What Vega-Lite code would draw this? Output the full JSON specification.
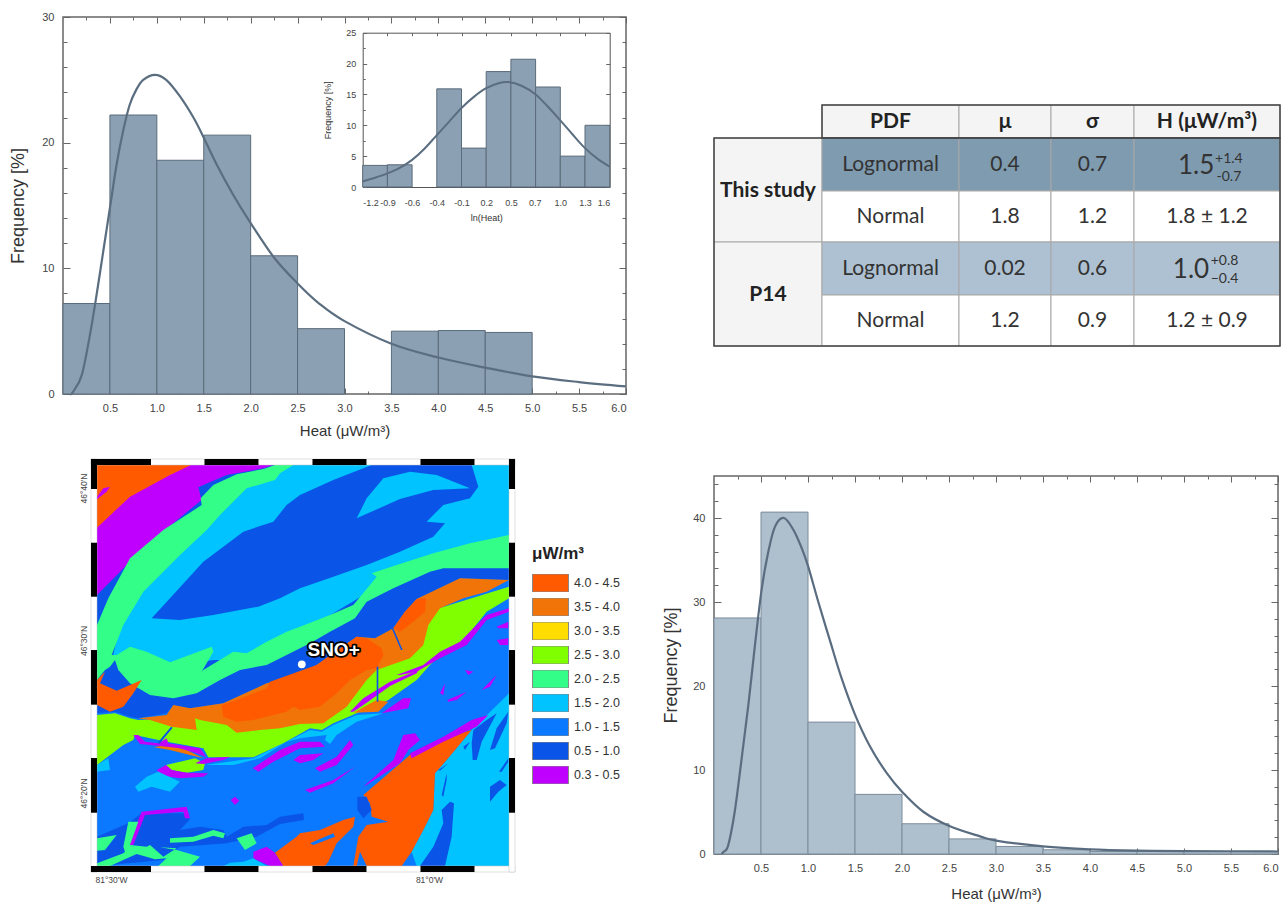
{"$schema":"https://vega.github.io/schema/vega-lite/v6.json","background":"white","padding":{"left":9,"top":10,"right":0,"bottom":0},
"config":{"view":{"stroke":null},"font":"Liberation Sans","axis":{"grid":false,"domain":false,"tickColor":"#666666","labelColor":"#444444","titleColor":"#333333","titleFontWeight":"normal","labelFont":"Liberation Sans","titleFont":"Liberation Sans","labelOverlap":false}},
"bounds":"flush","columns":2,"spacing":{"row":82,"column":88},
"resolve":{"scale":{"color":"independent"},"legend":{"color":"independent"}},
"datasets":{
"aBars":[{"from":0,"to":0.5,"freq":7.2,"base":0},{"from":0.5,"to":1,"freq":22.2,"base":0},{"from":1,"to":1.5,"freq":18.6,"base":0},{"from":1.5,"to":2,"freq":20.6,"base":0},{"from":2,"to":2.5,"freq":11,"base":0},{"from":2.5,"to":3,"freq":5.2,"base":0},{"from":3.5,"to":4,"freq":5,"base":0},{"from":4,"to":4.5,"freq":5.05,"base":0},{"from":4.5,"to":5,"freq":4.9,"base":0}],
"aCurve":[{"heat":0.08,"freq":0},{"heat":0.11,"freq":0.2},{"heat":0.2,"freq":1.5},{"heat":0.287,"freq":4.7},{"heat":0.358,"freq":7.9},{"heat":0.43,"freq":11.4},{"heat":0.5,"freq":14.8},{"heat":0.57,"freq":18.2},{"heat":0.64,"freq":20.9},{"heat":0.71,"freq":23},{"heat":0.78,"freq":24.2},{"heat":0.855,"freq":25},{"heat":0.98,"freq":25.4},{"heat":1.1,"freq":25},{"heat":1.245,"freq":23.7},{"heat":1.39,"freq":22},{"heat":1.5,"freq":20.4},{"heat":1.635,"freq":18.3},{"heat":1.81,"freq":15.9},{"heat":2,"freq":13.6},{"heat":2.255,"freq":10.8},{"heat":2.5,"freq":8.8},{"heat":2.73,"freq":7.2},{"heat":3,"freq":5.8},{"heat":3.5,"freq":4},{"heat":4,"freq":2.9},{"heat":4.5,"freq":2.1},{"heat":5,"freq":1.4},{"heat":5.5,"freq":0.95},{"heat":6,"freq":0.6}],
"inBars":[{"from":-1.2,"to":-0.92,"freq":3.5,"base":0},{"from":-0.92,"to":-0.64,"freq":3.6,"base":0},{"from":-0.36,"to":-0.08,"freq":15.9,"base":0},{"from":-0.08,"to":0.2,"freq":6.3,"base":0},{"from":0.2,"to":0.48,"freq":18.7,"base":0},{"from":0.48,"to":0.76,"freq":20.7,"base":0},{"from":0.76,"to":1.04,"freq":16.2,"base":0},{"from":1.04,"to":1.32,"freq":5,"base":0},{"from":1.32,"to":1.6,"freq":10,"base":0}],
"inCurve":[{"ln":-1.2,"freq":0.9},{"ln":-1.06,"freq":1.5},{"ln":-0.92,"freq":2.2},{"ln":-0.78,"freq":3.1},{"ln":-0.64,"freq":4.4},{"ln":-0.5,"freq":6.2},{"ln":-0.36,"freq":8.4},{"ln":-0.22,"freq":10.6},{"ln":-0.08,"freq":12.8},{"ln":0.06,"freq":14.6},{"ln":0.2,"freq":16},{"ln":0.34,"freq":16.8},{"ln":0.45,"freq":17},{"ln":0.6,"freq":16.4},{"ln":0.76,"freq":15},{"ln":0.9,"freq":13},{"ln":1.04,"freq":10.8},{"ln":1.18,"freq":8.5},{"ln":1.32,"freq":6.3},{"ln":1.46,"freq":4.6},{"ln":1.6,"freq":3.3}],
"bBars":[{"from":0,"to":0.5,"freq":28.1,"base":0},{"from":0.5,"to":1,"freq":40.7,"base":0},{"from":1,"to":1.5,"freq":15.7,"base":0},{"from":1.5,"to":2,"freq":7.1,"base":0},{"from":2,"to":2.5,"freq":3.6,"base":0},{"from":2.5,"to":3,"freq":1.8,"base":0},{"from":3,"to":3.5,"freq":0.9,"base":0},{"from":3.5,"to":4,"freq":0.5,"base":0},{"from":4,"to":4.5,"freq":0.3,"base":0},{"from":4.5,"to":5,"freq":0.3,"base":0},{"from":5,"to":5.5,"freq":0.3,"base":0},{"from":5.5,"to":6,"freq":0.3,"base":0}],
"bCurve":[{"heat":0.08,"freq":0},{"heat":0.1,"freq":0.24},{"heat":0.15,"freq":1},{"heat":0.22,"freq":5},{"heat":0.29,"freq":11},{"heat":0.365,"freq":17.7},{"heat":0.436,"freq":24.9},{"heat":0.507,"freq":31.5},{"heat":0.578,"freq":36},{"heat":0.65,"freq":39},{"heat":0.745,"freq":40},{"heat":0.844,"freq":38.6},{"heat":0.93,"freq":36.5},{"heat":1,"freq":34.3},{"heat":1.11,"freq":30},{"heat":1.234,"freq":25.4},{"heat":1.358,"freq":20.9},{"heat":1.5,"freq":16.6},{"heat":1.66,"freq":12.8},{"heat":1.84,"freq":9.6},{"heat":2.01,"freq":7.3},{"heat":2.23,"freq":5},{"heat":2.51,"freq":3.3},{"heat":2.83,"freq":2.1},{"heat":3,"freq":1.6},{"heat":3.5,"freq":0.9},{"heat":4,"freq":0.55},{"heat":4.5,"freq":0.4},{"heat":5,"freq":0.35},{"heat":6,"freq":0.3}],
"cells":[{"col":1,"colEnd":2,"row":0,"rowEnd":1,"shade":"head"},{"col":2,"colEnd":3,"row":0,"rowEnd":1,"shade":"head"},{"col":3,"colEnd":4,"row":0,"rowEnd":1,"shade":"head"},{"col":4,"colEnd":5,"row":0,"rowEnd":1,"shade":"head"},
{"col":0,"colEnd":1,"row":1,"rowEnd":3,"shade":"head"},{"col":0,"colEnd":1,"row":3,"rowEnd":5,"shade":"head"},
{"col":1,"colEnd":2,"row":1,"rowEnd":2,"shade":"dark"},{"col":2,"colEnd":3,"row":1,"rowEnd":2,"shade":"dark"},{"col":3,"colEnd":4,"row":1,"rowEnd":2,"shade":"dark"},{"col":4,"colEnd":5,"row":1,"rowEnd":2,"shade":"dark"},
{"col":1,"colEnd":2,"row":2,"rowEnd":3,"shade":"white"},{"col":2,"colEnd":3,"row":2,"rowEnd":3,"shade":"white"},{"col":3,"colEnd":4,"row":2,"rowEnd":3,"shade":"white"},{"col":4,"colEnd":5,"row":2,"rowEnd":3,"shade":"white"},
{"col":1,"colEnd":2,"row":3,"rowEnd":4,"shade":"light"},{"col":2,"colEnd":3,"row":3,"rowEnd":4,"shade":"light"},{"col":3,"colEnd":4,"row":3,"rowEnd":4,"shade":"light"},{"col":4,"colEnd":5,"row":3,"rowEnd":4,"shade":"light"},
{"col":1,"colEnd":2,"row":4,"rowEnd":5,"shade":"white"},{"col":2,"colEnd":3,"row":4,"rowEnd":5,"shade":"white"},{"col":3,"colEnd":4,"row":4,"rowEnd":5,"shade":"white"},{"col":4,"colEnd":5,"row":4,"rowEnd":5,"shade":"white"}],
"frames":[{"col":1,"colEnd":5,"row":0,"rowEnd":1},{"col":0,"colEnd":5,"row":1,"rowEnd":5}],
"headText":[{"c":1.5,"r":0.5,"t":"PDF"},{"c":2.5,"r":0.5,"t":"μ"},{"c":3.5,"r":0.5,"t":"σ"},{"c":4.5,"r":0.5,"t":"H (μW/m³)"},{"c":0.5,"r":2,"t":"This study"},{"c":0.5,"r":4,"t":"P14"}],
"bodyText":[{"c":1.5,"r":1.5,"t":"Lognormal"},{"c":2.5,"r":1.5,"t":"0.4"},{"c":3.5,"r":1.5,"t":"0.7"},{"c":1.5,"r":2.5,"t":"Normal"},{"c":2.5,"r":2.5,"t":"1.8"},{"c":3.5,"r":2.5,"t":"1.2"},{"c":4.5,"r":2.5,"t":"1.8 ± 1.2"},{"c":1.5,"r":3.5,"t":"Lognormal"},{"c":2.5,"r":3.5,"t":"0.02"},{"c":3.5,"r":3.5,"t":"0.6"},{"c":1.5,"r":4.5,"t":"Normal"},{"c":2.5,"r":4.5,"t":"1.2"},{"c":3.5,"r":4.5,"t":"0.9"},{"c":4.5,"r":4.5,"t":"1.2 ± 0.9"}],
"bigText":[{"c":4.425,"r":1.53,"t":"1.5"},{"c":4.39,"r":3.53,"t":"1.0"}],
"scriptText":[{"c":4.65,"r":1.39,"t":"+1.4"},{"c":4.65,"r":1.73,"t":"-0.7"},{"c":4.62,"r":3.36,"t":"+0.8"},{"c":4.62,"r":3.7,"t":"−0.4"}],
"ticksFrameWhite":[{"w":-81.5314,"e":-80.8648,"s":46.6918,"n":46.6984},{"w":-81.5314,"e":-80.8648,"s":46.2470,"n":46.2536},{"w":-81.5314,"e":-81.522,"s":46.2470,"n":46.6984},{"w":-80.8742,"e":-80.8648,"s":46.2470,"n":46.6984}],
"ticksFrameBlack":[{"w":-81.5314,"e":-81.4371,"s":46.6918,"n":46.6984},{"w":-81.353,"e":-81.2681,"s":46.6918,"n":46.6984},{"w":-81.1832,"e":-81.0983,"s":46.6918,"n":46.6984},{"w":-81.0134,"e":-80.9285,"s":46.6918,"n":46.6984},
{"w":-81.5314,"e":-81.4371,"s":46.2470,"n":46.2536},{"w":-81.353,"e":-81.2681,"s":46.2470,"n":46.2536},{"w":-81.1832,"e":-81.0983,"s":46.2470,"n":46.2536},{"w":-81.0134,"e":-80.9285,"s":46.2470,"n":46.2536},
{"w":-81.5314,"e":-81.522,"s":46.6656,"n":46.6984},{"w":-81.5314,"e":-81.522,"s":46.5479,"n":46.6069},{"w":-81.5314,"e":-81.522,"s":46.4299,"n":46.4896},{"w":-81.5314,"e":-81.522,"s":46.3118,"n":46.3716},
{"w":-80.8742,"e":-80.8648,"s":46.6656,"n":46.6984},{"w":-80.8742,"e":-80.8648,"s":46.5479,"n":46.6069},{"w":-80.8742,"e":-80.8648,"s":46.4299,"n":46.4896},{"w":-80.8742,"e":-80.8648,"s":46.3118,"n":46.3716}],
"site":[{"lon":-81.2,"lat":46.474}],
"siteLabel":[{"lon":-81.15,"lat":46.49,"t":"SNO+"}],
"geology":[
{"type":"Feature","properties":{"band":"1.0 - 1.5"},"geometry":{"type":"Polygon","coordinates":[[[291,1395],[1527,1395],[1527,2598],[291,2598],[291,1395]]]}},
{"type":"Feature","properties":{"band":"1.5 - 2.0"},"geometry":{"type":"Polygon","coordinates":[[[1415,2190],[1527,2080],[1527,2598],[1250,2598],[1235,2555],[1270,2490],[1300,2430],[1305,2320],[1340,2280],[1415,2190]]]}},
{"type":"Feature","properties":{"band":"0.5 - 1.0"},"geometry":{"type":"Polygon","coordinates":[[[1325,2430],[1350,2405],[1362,2410],[1355,2510],[1335,2598],[1260,2598],[1300,2540],[1330,2470],[1325,2430]]]}},
{"type":"Feature","properties":{"band":"0.5 - 1.0"},"geometry":{"type":"Polygon","coordinates":[[[1420,2190],[1460,2160],[1490,2140],[1445,2225],[1430,2280],[1418,2280],[1415,2230],[1420,2190]]]}},
{"type":"Feature","properties":{"band":"0.5 - 1.0"},"geometry":{"type":"Polygon","coordinates":[[[1470,2250],[1490,2185],[1525,2135],[1520,2170],[1485,2245],[1470,2250]]]}},
{"type":"Feature","properties":{"band":"0.5 - 1.0"},"geometry":{"type":"Polygon","coordinates":[[[1497,2315],[1525,2275],[1525,2285],[1505,2315],[1497,2315]]]}},
{"type":"Feature","properties":{"band":"0.5 - 1.0"},"geometry":{"type":"Polygon","coordinates":[[[1470,2360],[1500,2340],[1520,2355],[1495,2375],[1470,2405],[1470,2360]]]}},
{"type":"Feature","properties":{"band":"0.5 - 1.0"},"geometry":{"type":"Polygon","coordinates":[[[1325,2385],[1340,2320],[1340,2340],[1330,2390],[1325,2385]]]}},
{"type":"Feature","properties":{"band":"0.5 - 1.0"},"geometry":{"type":"Polygon","coordinates":[[[1315,2310],[1345,2290],[1320,2312],[1315,2310]]]}},
{"type":"Feature","properties":{"band":"0.5 - 1.0"},"geometry":{"type":"Polygon","coordinates":[[[1390,2240],[1410,2225],[1395,2250],[1390,2240]]]}},
{"type":"Feature","properties":{"band":"0.5 - 1.0"},"geometry":{"type":"Polygon","coordinates":[[[291,1395],[1527,1395],[1527,1740],[1380,1735],[1250,1797],[1215,1835],[1180,1885],[1125,1915],[1070,1910],[950,1995],[930,2010],[800,2050],[670,2110],[570,2125],[520,2115],[500,2140],[415,2155],[390,2150],[345,2135],[291,2140],[291,1395]]]}},
{"type":"Feature","properties":{"band":"0.3 - 0.5"},"geometry":{"type":"Polygon","coordinates":[[[291,1395],[820,1395],[790,1405],[680,1425],[595,1462],[605,1500],[440,1635],[291,1785],[291,1395]]]}},
{"type":"Feature","properties":{"band":"4.0 - 4.5"},"geometry":{"type":"Polygon","coordinates":[[[291,1395],[573,1395],[510,1425],[390,1490],[291,1583],[291,1395]]]}},
{"type":"Feature","properties":{"band":"0.3 - 0.5"},"geometry":{"type":"Polygon","coordinates":[[[291,1490],[310,1465],[330,1460],[320,1475],[291,1498],[291,1490]]]}},
{"type":"Feature","properties":{"band":"1.5 - 2.0"},"geometry":{"type":"Polygon","coordinates":[[[840,1395],[1527,1395],[1527,1650],[1190,1720],[1100,1780],[900,1900],[700,1980],[640,1980],[510,2000],[380,1960],[335,1985],[400,1700],[700,1450],[840,1395]]]}},
{"type":"Feature","properties":{"band":"2.0 - 2.5"},"geometry":{"type":"Polygon","coordinates":[[[825,1395],[790,1407],[710,1423],[640,1455],[602,1495],[605,1515],[490,1590],[390,1675],[325,1795],[291,1875],[291,2040],[315,2010],[330,2000],[345,1980],[355,2010],[390,2050],[450,2085],[520,2095],[590,2080],[660,2040],[720,2010],[800,1995],[930,1930],[990,1895],[1065,1855],[1100,1805],[1180,1765],[1290,1715],[1330,1705],[1527,1705],[1527,1605],[1410,1630],[1300,1660],[1190,1695],[1115,1720],[1130,1730],[1110,1755],[1060,1815],[990,1845],[900,1880],[860,1895],[800,1925],[740,1960],[700,1955],[610,2010],[605,2015],[640,1955],[635,1940],[510,1987],[440,1955],[390,1940],[350,1965],[335,1965],[370,1875],[430,1775],[540,1665],[620,1590],[660,1545],[740,1465],[825,1440],[840,1420],[880,1395],[825,1395]]]}},
{"type":"Feature","properties":{"band":"0.5 - 1.0"},"geometry":{"type":"Polygon","coordinates":[[[455,1855],[510,1795],[610,1685],[730,1595],[820,1565],[860,1515],[900,1485],[1000,1440],[1115,1395],[1415,1395],[1435,1460],[1410,1495],[1330,1515],[1280,1565],[1335,1570],[1300,1610],[1200,1655],[1100,1695],[1000,1730],[900,1765],[840,1795],[775,1820],[640,1845],[540,1860],[455,1855]]]}},
{"type":"Feature","properties":{"band":"1.5 - 2.0"},"geometry":{"type":"Polygon","coordinates":[[[1070,1555],[1100,1495],[1150,1435],[1230,1415],[1310,1425],[1410,1465],[1300,1470],[1200,1497],[1070,1555]]]}},
{"type":"Feature","properties":{"band":"4.0 - 4.5"},"geometry":{"type":"Polygon","coordinates":[[[291,2040],[315,2015],[300,2050],[350,2072],[425,2040],[400,2080],[370,2120],[330,2135],[291,2115],[291,2040]]]}},
{"type":"Feature","properties":{"band":"2.5 - 3.0"},"geometry":{"type":"Polygon","coordinates":[[[291,2145],[291,2295],[370,2235],[400,2220],[405,2205],[500,2225],[610,2245],[625,2272],[690,2272],[760,2272],[850,2230],[930,2185],[965,2190],[1000,2170],[1070,2140],[1165,2100],[1250,2040],[1290,1995],[1330,1955],[1380,1935],[1420,1885],[1460,1835],[1527,1795],[1527,1760],[1300,1830],[1200,1900],[800,2090],[600,2150],[415,2160],[390,2155],[345,2140],[291,2145]]]}},
{"type":"Feature","properties":{"band":"3.5 - 4.0"},"geometry":{"type":"Polygon","coordinates":[[[415,2155],[500,2145],[520,2115],[570,2125],[670,2110],[800,2050],[880,2035],[950,1995],[1070,1910],[1125,1915],[1180,1885],[1215,1835],[1250,1797],[1380,1735],[1527,1740],[1460,1775],[1390,1795],[1320,1825],[1285,1875],[1270,1935],[1230,1975],[1130,2010],[1100,2040],[1040,2120],[970,2170],[900,2172],[840,2185],[780,2190],[710,2198],[680,2175],[600,2160],[585,2155],[590,2190],[515,2180],[450,2160],[415,2155]]]}},
{"type":"Feature","properties":{"band":"3.5 - 4.0"},"geometry":{"type":"Polygon","coordinates":[[[1205,1975],[1240,1935],[1235,1950],[1210,1980],[1205,1975]]]}},
{"type":"Feature","properties":{"band":"3.5 - 4.0"},"geometry":{"type":"Polygon","coordinates":[[[1060,2138],[1135,2135],[1165,2105],[1130,2100],[1060,2138]]]}},
{"type":"Feature","properties":{"band":"4.0 - 4.5"},"geometry":{"type":"Polygon","coordinates":[[[665,2115],[710,2100],[800,2065],[810,2045],[950,1995],[1070,1910],[1100,1915],[1145,1945],[1150,1965],[1130,2005],[1100,2010],[1050,2040],[1010,2080],[960,2120],[900,2130],[880,2120],[860,2135],[760,2160],[710,2165],[670,2150],[665,2115]]]}},
{"type":"Feature","properties":{"band":"4.0 - 4.5"},"geometry":{"type":"Polygon","coordinates":[[[1180,1885],[1215,1835],[1250,1797],[1278,1795],[1275,1835],[1240,1865],[1200,1895],[1180,1885]]]}},
{"type":"Feature","properties":{"band":"0.3 - 0.5"},"geometry":{"type":"Polygon","coordinates":[[[1190,2025],[1270,1995],[1320,1955],[1380,1925],[1420,1885],[1460,1845],[1527,1825],[1527,1835],[1460,1860],[1400,1935],[1320,1975],[1250,2015],[1200,2025],[1190,2025]]]}},
{"type":"Feature","properties":{"band":"0.3 - 0.5"},"geometry":{"type":"Polygon","coordinates":[[[1490,1880],[1525,1865],[1525,1885],[1495,1885],[1490,1880]]]}},
{"type":"Feature","properties":{"band":"0.3 - 0.5"},"geometry":{"type":"Polygon","coordinates":[[[1490,1920],[1525,1915],[1525,1935],[1500,1935],[1490,1920]]]}},
{"type":"Feature","properties":{"band":"0.3 - 0.5"},"geometry":{"type":"Polygon","coordinates":[[[1050,2135],[1090,2095],[1170,2045],[1255,2010],[1250,2020],[1170,2058],[1100,2108],[1060,2135],[1050,2135]]]}},
{"type":"Feature","properties":{"band":"2.5 - 3.0"},"geometry":{"type":"Polygon","coordinates":[[[498,2295],[585,2275],[615,2290],[610,2310],[560,2318],[515,2310],[498,2295]]]}},
{"type":"Feature","properties":{"band":"0.3 - 0.5"},"geometry":{"type":"Polygon","coordinates":[[[470,2310],[498,2295],[515,2310],[560,2318],[625,2320],[610,2330],[540,2335],[490,2328],[470,2310]]]}},
{"type":"Feature","properties":{"band":"1.5 - 2.0"},"geometry":{"type":"Polygon","coordinates":[[[291,2295],[325,2275],[330,2310],[291,2315],[291,2295]]]}},
{"type":"Feature","properties":{"band":"1.5 - 2.0"},"geometry":{"type":"Polygon","coordinates":[[[405,2360],[440,2330],[475,2315],[540,2345],[510,2375],[455,2360],[415,2375],[405,2360]]]}},
{"type":"Feature","properties":{"band":"1.5 - 2.0"},"geometry":{"type":"Polygon","coordinates":[[[615,2295],[760,2275],[840,2235],[930,2190],[965,2195],[1000,2175],[1070,2145],[1150,2140],[1070,2165],[1010,2205],[990,2232],[975,2220],[980,2205],[900,2215],[860,2225],[780,2275],[700,2295],[615,2295]]]}},
{"type":"Feature","properties":{"band":"3.5 - 4.0"},"geometry":{"type":"Polygon","coordinates":[[[462,2242],[500,2235],[560,2250],[610,2275],[570,2265],[510,2250],[462,2242]]]}},
{"type":"Feature","properties":{"band":"0.3 - 0.5"},"geometry":{"type":"Polygon","coordinates":[[[400,2205],[415,2205],[435,2225],[475,2230],[500,2215],[505,2230],[600,2245],[620,2272],[590,2260],[540,2245],[480,2238],[420,2232],[400,2205]]]}},
{"type":"Feature","properties":{"band":"0.3 - 0.5"},"geometry":{"type":"Polygon","coordinates":[[[585,2290],[620,2275],[690,2270],[670,2280],[610,2292],[585,2290]]]}},
{"type":"Feature","properties":{"band":"0.3 - 0.5"},"geometry":{"type":"Polygon","coordinates":[[[758,2305],[840,2250],[900,2225],[960,2225],[975,2240],[900,2245],[820,2285],[775,2315],[758,2305]]]}},
{"type":"Feature","properties":{"band":"0.3 - 0.5"},"geometry":{"type":"Polygon","coordinates":[[[880,2280],[900,2265],[970,2260],[940,2280],[900,2290],[880,2280]]]}},
{"type":"Feature","properties":{"band":"0.3 - 0.5"},"geometry":{"type":"Polygon","coordinates":[[[692,2400],[705,2390],[718,2402],[705,2415],[692,2400]]]}},
{"type":"Feature","properties":{"band":"0.3 - 0.5"},"geometry":{"type":"Polygon","coordinates":[[[915,2370],[1000,2340],[1065,2300],[1000,2350],[930,2378],[915,2370]]]}},
{"type":"Feature","properties":{"band":"0.3 - 0.5"},"geometry":{"type":"Polygon","coordinates":[[[945,2305],[1010,2270],[1050,2220],[1060,2235],[1010,2295],[960,2315],[945,2305]]]}},
{"type":"Feature","properties":{"band":"0.3 - 0.5"},"geometry":{"type":"Polygon","coordinates":[[[1090,2360],[1180,2280],[1210,2205],[1245,2200],[1260,2220],[1225,2250],[1200,2290],[1100,2355],[1090,2360]]]}},
{"type":"Feature","properties":{"band":"4.0 - 4.5"},"geometry":{"type":"Polygon","coordinates":[[[1230,2265],[1330,2215],[1415,2190],[1340,2280],[1305,2320],[1300,2430],[1270,2490],[1235,2555],[1205,2598],[1100,2598],[1080,2555],[1070,2598],[1060,2598],[1075,2510],[1100,2475],[1165,2465],[1115,2450],[1110,2410],[1090,2385],[1230,2265]]]}},
{"type":"Feature","properties":{"band":"0.3 - 0.5"},"geometry":{"type":"Polygon","coordinates":[[[1235,2275],[1230,2260],[1330,2210],[1415,2160],[1465,2145],[1430,2180],[1330,2225],[1235,2275]]]}},
{"type":"Feature","properties":{"band":"0.3 - 0.5"},"geometry":{"type":"Polygon","coordinates":[[[1145,2140],[1210,2095],[1233,2095],[1225,2125],[1145,2140]]]}},
{"type":"Feature","properties":{"band":"0.3 - 0.5"},"geometry":{"type":"Polygon","coordinates":[[[1320,2080],[1335,2050],[1330,2085],[1320,2080]]]}},
{"type":"Feature","properties":{"band":"0.3 - 0.5"},"geometry":{"type":"Polygon","coordinates":[[[1342,2100],[1400,2075],[1370,2100],[1345,2105],[1342,2100]]]}},
{"type":"Feature","properties":{"band":"0.3 - 0.5"},"geometry":{"type":"Polygon","coordinates":[[[1395,2010],[1420,2015],[1405,2025],[1395,2010]]]}},
{"type":"Feature","properties":{"band":"0.3 - 0.5"},"geometry":{"type":"Polygon","coordinates":[[[1445,2070],[1490,2025],[1470,2060],[1445,2070]]]}},
{"type":"Feature","properties":{"band":"0.5 - 1.0"},"geometry":{"type":"Polygon","coordinates":[[[291,2510],[360,2480],[385,2470],[425,2440],[550,2440],[570,2458],[540,2490],[600,2480],[670,2490],[680,2510],[730,2480],[800,2475],[840,2450],[910,2440],[912,2460],[840,2472],[770,2510],[680,2530],[540,2540],[490,2580],[291,2598],[291,2510]]]}},
{"type":"Feature","properties":{"band":"0.3 - 0.5"},"geometry":{"type":"Polygon","coordinates":[[[385,2535],[425,2435],[560,2420],[570,2455],[555,2455],[550,2435],[435,2445],[400,2535],[385,2535]]]}},
{"type":"Feature","properties":{"band":"2.0 - 2.5"},"geometry":{"type":"Polygon","coordinates":[[[291,2515],[350,2505],[315,2550],[291,2552],[291,2515]]]}},
{"type":"Feature","properties":{"band":"2.0 - 2.5"},"geometry":{"type":"Polygon","coordinates":[[[370,2540],[385,2465],[415,2465],[390,2535],[440,2540],[450,2535],[490,2570],[530,2545],[480,2542],[530,2550],[600,2570],[570,2598],[475,2598],[500,2575],[465,2578],[410,2562],[330,2598],[291,2598],[291,2590],[370,2560],[375,2555],[370,2540]]]}},
{"type":"Feature","properties":{"band":"2.0 - 2.5"},"geometry":{"type":"Polygon","coordinates":[[[710,2515],[755,2500],[770,2530],[735,2550],[710,2515]]]}},
{"type":"Feature","properties":{"band":"2.0 - 2.5"},"geometry":{"type":"Polygon","coordinates":[[[510,2515],[580,2510],[640,2490],[675,2500],[670,2515],[640,2507],[580,2525],[510,2528],[510,2515]]]}},
{"type":"Feature","properties":{"band":"1.5 - 2.0"},"geometry":{"type":"Polygon","coordinates":[[[670,2598],[690,2588],[730,2585],[760,2575],[800,2598],[670,2598]]]}},
{"type":"Feature","properties":{"band":"0.3 - 0.5"},"geometry":{"type":"Polygon","coordinates":[[[760,2555],[800,2540],[825,2558],[850,2598],[810,2598],[760,2575],[760,2555]]]}},
{"type":"Feature","properties":{"band":"4.0 - 4.5"},"geometry":{"type":"Polygon","coordinates":[[[825,2558],[890,2510],[900,2500],[960,2490],[1030,2460],[1065,2450],[1060,2480],[1010,2530],[985,2585],[975,2598],[850,2598],[825,2558]]]}},
{"type":"Feature","properties":{"band":"1.0 - 1.5"},"geometry":{"type":"Polygon","coordinates":[[[930,2530],[1000,2500],[1005,2510],[940,2535],[930,2530]]]}},
{"type":"Feature","properties":{"band":"0.5 - 1.0"},"geometry":{"type":"Polygon","coordinates":[[[1072,2390],[1100,2390],[1115,2430],[1090,2455],[1072,2430],[1072,2390]]]}},
{"type":"Feature","properties":{"band":"0.5 - 1.0"},"geometry":{"type":"Polygon","coordinates":[[[1175,1885],[1180,1885],[1208,1950],[1203,1950],[1175,1885]]]}},
{"type":"Feature","properties":{"band":"0.5 - 1.0"},"geometry":{"type":"Polygon","coordinates":[[[1130,2000],[1135,2000],[1135,2105],[1130,2105],[1130,2000]]]}},
{"type":"Feature","properties":{"band":"0.5 - 1.0"},"geometry":{"type":"Polygon","coordinates":[[[513,2180],[518,2183],[478,2232],[473,2228],[513,2180]]]}}
]},
"concat":[
{"width":563,"height":377,"view":{"stroke":"#666666","strokeWidth":1.5},
"resolve":{"scale":{"x":"independent","y":"independent"},"axis":{"x":"independent","y":"independent"}},
"layer":[
{"data":{"name":"aBars"},"mark":{"type":"rect","fill":"#8ba0b2","stroke":"#5a6b7a","strokeWidth":1},
"encoding":{"x":{"field":"from","type":"quantitative","scale":{"domain":[0,6],"nice":false},"axis":{"orient":"bottom","values":[0.5,1,1.5,2,2.5,3,3.5,4,4.5,5,5.5,6],"format":".1f","title":"Heat (μW/m³)","tickSize":-6,"labelPadding":14,"labelFontSize":11,"titleFontSize":15,"titlePadding":10}},"x2":{"field":"to"},
"y":{"field":"freq","type":"quantitative","scale":{"domain":[0,30],"nice":false},"axis":{"orient":"left","values":[0,10,20,30],"title":"Frequency [%]","tickSize":-7,"labelPadding":16,"labelFontSize":11,"titleFontSize":18,"titlePadding":14}},"y2":{"field":"base"}}},
{"data":{"name":"aCurve"},"mark":{"type":"line","color":"#5b6e80","strokeWidth":2.2,"interpolate":"cardinal"},
"encoding":{"x":{"field":"heat","type":"quantitative","scale":{"domain":[0,6],"nice":false},"axis":{"orient":"top","values":[0.5,1,1.5,2,2.5,3,3.5,4,4.5,5,5.5,6],"labels":false,"title":null,"tickSize":-6}},
"y":{"field":"freq","type":"quantitative","scale":{"domain":[0,30],"nice":false},"axis":{"orient":"right","values":[0,10,20,30],"labels":false,"title":null,"tickSize":-7}}}},
{"data":{"name":"aBars"},"mark":{"type":"point","opacity":0},
"encoding":{"x":{"field":"from","type":"quantitative","scale":{"domain":[0,6],"nice":false},"axis":{"orient":"bottom","values":[0.25,0.75,1.25,1.75,2.25,2.75,3.25,3.75,4.25,4.75,5.25,5.75],"labels":false,"title":null,"tickSize":-3}},
"y":{"field":"freq","type":"quantitative","scale":{"domain":[0,30],"nice":false},"axis":{"orient":"left","values":[2,4,6,8,12,14,16,18,22,24,26,28],"labels":false,"title":null,"tickSize":-4}}}},
{"data":{"name":"aBars"},"mark":{"type":"point","opacity":0},
"encoding":{"x":{"field":"from","type":"quantitative","scale":{"domain":[0,6],"nice":false},"axis":{"orient":"top","values":[0.25,0.75,1.25,1.75,2.25,2.75,3.25,3.75,4.25,4.75,5.25,5.75],"labels":false,"title":null,"tickSize":-3}},
"y":{"field":"freq","type":"quantitative","scale":{"domain":[0,30],"nice":false},"axis":{"orient":"right","values":[2,4,6,8,12,14,16,18,22,24,26,28],"labels":false,"title":null,"tickSize":-4}}}},
{"data":{"name":"inBars"},"mark":{"type":"rect","fill":"#8ba0b2","stroke":"#5a6b7a","strokeWidth":1},
"encoding":{"x":{"field":"from","type":"quantitative","scale":{"domain":[-1.2,1.6],"nice":false,"zero":false,"range":[299.7,546.7]},"axis":{"orient":"bottom","offset":-207,"values":[-1.2,-0.92,-0.64,-0.36,-0.08,0.2,0.48,0.749,1.04,1.32,1.6],"labelExpr":"replace(format(datum.value,'.1f'),'−','-')","title":"ln(Heat)","domain":true,"domainColor":"#555555","tickSize":0,"labelPadding":11,"labelFontSize":9,"titleFontSize":9,"titlePadding":6}},"x2":{"field":"to"},
"y":{"field":"freq","type":"quantitative","scale":{"domain":[0,25],"nice":false,"range":[170,15.7]},"axis":{"orient":"left","offset":-299.7,"values":[0,5,10,15,20,25],"title":"Frequency [%]","domain":true,"domainColor":"#555555","tickSize":-4,"labelPadding":11,"labelFontSize":9,"titleFontSize":9,"titlePadding":13}},"y2":{"field":"base"}}},
{"data":{"name":"inCurve"},"mark":{"type":"line","color":"#5b6e80","strokeWidth":2,"interpolate":"cardinal"},
"encoding":{"x":{"field":"ln","type":"quantitative","scale":{"domain":[-1.2,1.6],"nice":false,"zero":false,"range":[299.7,546.7]},"axis":{"orient":"top","offset":-15.7,"values":[-0.92,-0.64,-0.36,-0.08,0.2,0.48,0.76,1.04,1.32],"labels":false,"title":null,"domain":true,"domainColor":"#555555","tickSize":-3}},
"y":{"field":"freq","type":"quantitative","scale":{"domain":[0,25],"nice":false,"range":[170,15.7]},"axis":{"orient":"right","offset":-16.3,"values":[0,5,10,15,20,25],"labels":false,"title":null,"domain":true,"domainColor":"#555555","tickSize":-4}}}},
{"data":{"name":"inBars"},"mark":{"type":"point","opacity":0},
"encoding":{"x":{"field":"from","type":"quantitative","scale":{"domain":[-1.2,1.6],"nice":false,"zero":false,"range":[299.7,546.7]},"axis":null},
"y":{"field":"freq","type":"quantitative","scale":{"domain":[0,25],"nice":false,"range":[170,15.7]},"axis":{"orient":"left","offset":-299.7,"values":[2.5,7.5,12.5,17.5,22.5],"labels":false,"title":null,"tickSize":-2.5}}}}
]},
{"width":564,"height":377,
"encoding":{"x":{"field":"col","type":"quantitative","axis":null,"scale":{"domain":[0,1,2,3,4,5],"range":[0,108,245,337,420,566]}},
"y":{"field":"row","type":"quantitative","axis":null,"scale":{"domain":[0,1,2,3,4,5],"range":[88,121,174,225,278,329]}}},
"layer":[
{"data":{"name":"cells"},"mark":{"type":"rect","stroke":"#a8a8a8","strokeWidth":1},
"encoding":{"x2":{"field":"colEnd"},"y2":{"field":"rowEnd"},"color":{"field":"shade","type":"nominal","legend":null,"scale":{"domain":["head","dark","light","white"],"range":["#f4f4f4","#7f9bb0","#aec1d2","#ffffff"]}}}},
{"data":{"name":"frames"},"mark":{"type":"rect","fillOpacity":0,"fill":"white","stroke":"#444444","strokeWidth":1.5},
"encoding":{"x2":{"field":"colEnd"},"y2":{"field":"rowEnd"}}},
{"data":{"name":"headText"},"mark":{"type":"text","font":"Lato","fontWeight":"bold","fontSize":21,"color":"#222222"},
"encoding":{"x":{"field":"c","type":"quantitative"},"y":{"field":"r","type":"quantitative"},"text":{"field":"t"}}},
{"data":{"name":"bodyText"},"mark":{"type":"text","font":"Lato","fontSize":21,"color":"#333333"},
"encoding":{"x":{"field":"c","type":"quantitative"},"y":{"field":"r","type":"quantitative"},"text":{"field":"t"}}},
{"data":{"name":"bigText"},"mark":{"type":"text","font":"Lato","fontSize":26,"color":"#333333"},
"encoding":{"x":{"field":"c","type":"quantitative"},"y":{"field":"r","type":"quantitative"},"text":{"field":"t"}}},
{"data":{"name":"scriptText"},"mark":{"type":"text","font":"Lato","fontSize":14,"color":"#333333"},
"encoding":{"x":{"field":"c","type":"quantitative"},"y":{"field":"r","type":"quantitative"},"text":{"field":"t"}}}
]},
{"width":563,"height":378,
"layer":[
{"data":{"name":"geology"},"projection":{"type":"identity","scale":0.33333,"translate":[-63,-476]},"mark":{"type":"geoshape","strokeWidth":0,"stroke":null,"clip":false},
"encoding":{"color":{"field":"properties.band","type":"nominal","scale":{"domain":["4.0 - 4.5","3.5 - 4.0","3.0 - 3.5","2.5 - 3.0","2.0 - 2.5","1.5 - 2.0","1.0 - 1.5","0.5 - 1.0","0.3 - 0.5"],"range":["#ff5a00","#f07408","#ffdd00","#80ff00","#33ff88","#00c3ff","#0a78ff","#0a55e8","#c000ff"]},
"legend":{"orient":"none","legendX":469,"legendY":70,"title":"μW/m³","titleFontSize":17,"titleFontWeight":"bold","titleColor":"#222222","titlePadding":11,"labelFontSize":12.5,"labelColor":"#333333","labelOffset":14,"symbolOffset":9,"symbolType":"M-2,-1H2V1H-2Z","symbolSize":324,"symbolStrokeColor":"#888888","symbolStrokeWidth":1,"rowPadding":6,"clipHeight":18}}}},
{"data":{"name":"ticksFrameWhite"},"mark":{"type":"rect","fill":"white","stroke":"#c0c0c0","strokeWidth":0.5},
"encoding":{"x":{"field":"w","type":"quantitative","scale":{"domain":[-81.5314,-80.8648],"range":[28,452],"zero":false,"nice":false},"axis":{"orient":"bottom","offset":18,"values":[-81.5,-81],"labelExpr":"datum.value == -81.5 ? \"81°30'W\" : \"81°0'W\"","title":null,"ticks":false,"labelFontSize":8.5,"labelPadding":3}},"x2":{"field":"e"},
"y":{"field":"s","type":"quantitative","scale":{"domain":[46.2470,46.6984],"range":[396,-17],"zero":false,"nice":false},"axis":{"orient":"left","offset":-28,"values":[46.33333,46.5,46.66667],"labelExpr":"datum.value > 46.6 ? \"46°40'N\" : datum.value > 46.4 ? \"46°30'N\" : \"46°20'N\"","title":null,"ticks":false,"labelFontSize":8.5,"labelAngle":-90,"labelPadding":3,"labelAlign":"center","labelBaseline":"bottom"}},"y2":{"field":"n"}}},
{"data":{"name":"ticksFrameBlack"},"mark":{"type":"rect","fill":"black"},
"encoding":{"x":{"field":"w","type":"quantitative"},"x2":{"field":"e"},"y":{"field":"s","type":"quantitative"},"y2":{"field":"n"}}},
{"data":{"name":"site"},"mark":{"type":"point","filled":true,"fill":"white","opacity":1,"size":60,"shape":"circle"},
"encoding":{"x":{"field":"lon","type":"quantitative"},"y":{"field":"lat","type":"quantitative"}}},
{"data":{"name":"siteLabel"},"mark":{"type":"text","font":"Liberation Sans","fontWeight":"bold","fontSize":19,"stroke":"black","strokeWidth":3.5,"strokeJoin":"round"},
"encoding":{"x":{"field":"lon","type":"quantitative"},"y":{"field":"lat","type":"quantitative"},"text":{"field":"t"}}},
{"data":{"name":"siteLabel"},"mark":{"type":"text","font":"Liberation Sans","fontWeight":"bold","fontSize":19,"fill":"white"},
"encoding":{"x":{"field":"lon","type":"quantitative"},"y":{"field":"lat","type":"quantitative"},"text":{"field":"t"}}}
]},
{"width":564,"height":378,"view":{"stroke":"#666666","strokeWidth":1.5},
"resolve":{"scale":{"x":"independent","y":"independent"},"axis":{"x":"independent","y":"independent"}},
"layer":[
{"data":{"name":"bBars"},"mark":{"type":"rect","fill":"#aebfcd","stroke":"#7c8c9a","strokeWidth":1},
"encoding":{"x":{"field":"from","type":"quantitative","scale":{"domain":[0,6],"nice":false},"axis":{"orient":"bottom","values":[0.5,1,1.5,2,2.5,3,3.5,4,4.5,5,5.5,6],"format":".1f","title":"Heat (μW/m³)","tickSize":-6,"labelPadding":14,"labelFontSize":11,"titleFontSize":15,"titlePadding":13}},"x2":{"field":"to"},
"y":{"field":"freq","type":"quantitative","scale":{"domain":[0,45],"nice":false},"axis":{"orient":"left","values":[0,10,20,30,40],"title":"Frequency [%]","tickSize":-7,"labelPadding":16,"labelFontSize":11,"titleFontSize":18,"titlePadding":12}},"y2":{"field":"base"}}},
{"data":{"name":"bCurve"},"mark":{"type":"line","color":"#5a6d80","strokeWidth":2.2,"interpolate":"cardinal"},
"encoding":{"x":{"field":"heat","type":"quantitative","scale":{"domain":[0,6],"nice":false},"axis":{"orient":"top","values":[0.5,1,1.5,2,2.5,3,3.5,4,4.5,5,5.5,6],"labels":false,"title":null,"tickSize":-6}},
"y":{"field":"freq","type":"quantitative","scale":{"domain":[0,45],"nice":false},"axis":{"orient":"right","values":[0,10,20,30,40],"labels":false,"title":null,"tickSize":-7}}}},
{"data":{"name":"bBars"},"mark":{"type":"point","opacity":0},
"encoding":{"x":{"field":"from","type":"quantitative","scale":{"domain":[0,6],"nice":false},"axis":{"orient":"bottom","values":[0.25,0.75,1.25,1.75,2.25,2.75,3.25,3.75,4.25,4.75,5.25,5.75],"labels":false,"title":null,"tickSize":-3}},
"y":{"field":"freq","type":"quantitative","scale":{"domain":[0,45],"nice":false},"axis":{"orient":"left","values":[2,4,6,8,12,14,16,18,22,24,26,28,32,34,36,38,42,44],"labels":false,"title":null,"tickSize":-4}}}},
{"data":{"name":"bBars"},"mark":{"type":"point","opacity":0},
"encoding":{"x":{"field":"from","type":"quantitative","scale":{"domain":[0,6],"nice":false},"axis":{"orient":"top","values":[0.25,0.75,1.25,1.75,2.25,2.75,3.25,3.75,4.25,4.75,5.25,5.75],"labels":false,"title":null,"tickSize":-3}},
"y":{"field":"freq","type":"quantitative","scale":{"domain":[0,45],"nice":false},"axis":{"orient":"right","values":[2,4,6,8,12,14,16,18,22,24,26,28,32,34,36,38,42,44],"labels":false,"title":null,"tickSize":-4}}}}
]}
]}
